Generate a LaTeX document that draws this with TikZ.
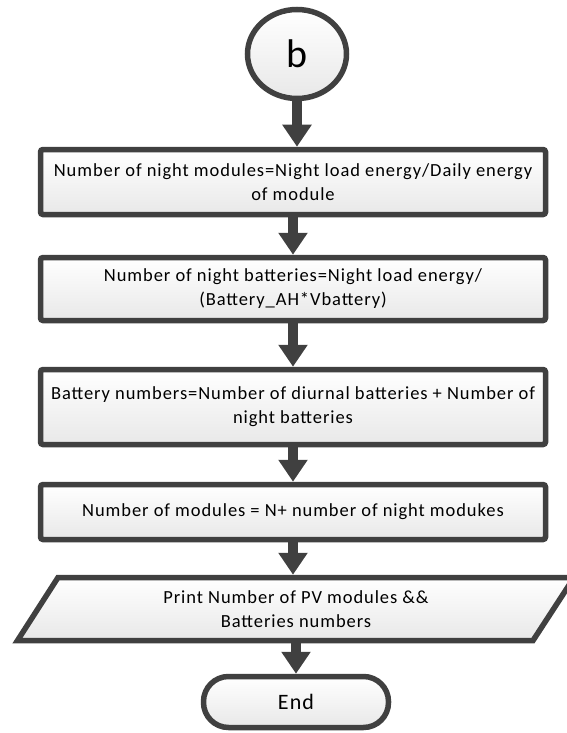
\documentclass[tikz,border=0pt]{standalone}
\usepackage{fontspec}
\setmainfont{Carlito}
\newfontfamily\boxfont[LetterSpace=5]{Carlito}
\usetikzlibrary{arrows.meta,shadows,shapes.geometric}
\definecolor{edge}{HTML}{404040}
\begin{document}
\begin{tikzpicture}[x=1pt,y=-1pt,
  shapestyle/.style={draw=edge, line width=5.5pt, top color=white, bottom color=black!9,
    drop shadow={opacity=0.18, shadow xshift=2pt, shadow yshift=-2pt}},
  proc/.style={shapestyle, rounded corners=2.5pt, minimum width=505pt, align=center, inner sep=0pt,
    font=\boxfont\fontsize{18.5}{24}\selectfont},
  txt/.style={align=center, inner sep=0pt, font=\boxfont\fontsize{18.5}{24}\selectfont},
  startnode/.style={shapestyle, ellipse, minimum width=99pt, minimum height=89pt, inner sep=0pt,
    font=\fontsize{40}{42}\selectfont},
  endnode/.style={shapestyle, rounded corners=25pt, minimum width=185pt, minimum height=51pt, inner sep=0pt,
    font=\boxfont\fontsize{22}{26}\selectfont},
  arr/.style={draw=edge, line width=10pt, -{Triangle[width=28pt,length=22pt]}, edge}
]
\useasboundingbox (0,0) rectangle (566,733);

\node[startnode] (b) at (297,54) {b};
\node[proc, minimum height=65pt] (n1) at (293,182) {Number of night modules=Night load energy/Daily energy\\of module};
\node[proc, minimum height=63pt] (n2) at (293,289) {Number of night batteries=Night load energy/\\(Battery\_AH*Vbattery)};
\node[proc, minimum height=75pt] (n3) at (293,407) {Battery numbers=Number of diurnal batteries + Number of\\night batteries};
\node[proc, minimum height=55pt] (n4) at (293,512) {Number of modules = N+ number of night modukes};
\draw[shapestyle] (58,577.5) -- (574,577.5) -- (533,640.5) -- (17.5,640.5) -- cycle;
\node[txt, minimum height=63pt, outer sep=2.75pt] (n5) at (296,609) {Print Number of PV modules \&\&\\Batteries numbers};
\node[endnode] (e) at (296,702) {End};

\draw[arr] (b) -- (b |- n1.north);
\draw[arr] (n1) -- (n2);
\draw[arr] (n2) -- (n3);
\draw[arr] (n3) -- (n4);
\draw[arr] (n4) -- (n4 |- n5.north);
\draw[arr] (n5.south -| e) -- (e);
\end{tikzpicture}
\end{document}
